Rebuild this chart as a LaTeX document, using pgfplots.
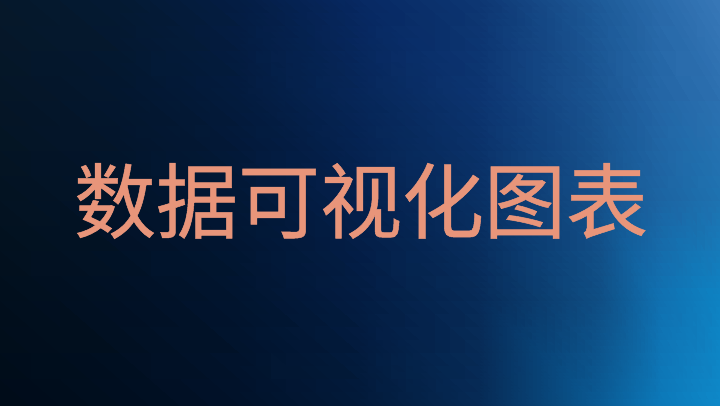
\documentclass[border=0pt]{standalone}
\usepackage{pgfplots}
\pgfplotsset{compat=1.18}
\usepackage{fontspec}
\newfontfamily\cjk[FakeBold=0.6]{Noto Sans CJK SC}
\definecolor{titlesalmon}{HTML}{E8957A}

\begin{document}
\begin{tikzpicture}
	\begin{axis}[
		view={0}{90},
		scale only axis,
		width=720bp, height=405bp,
		xmin=0, xmax=720,
		ymin=0, ymax=405,
		hide axis,
	]
	% background: colour sampled on a grid, interpolated
	\addplot3 [surf, shader=interp, mesh/color input=explicit, mesh/cols=8]
	table [meta=c] {
		x y z c
		0   0 0 rgb=0,0.047,0.098
		120 0 0 rgb=0,0.055,0.125
		240 0 0 rgb=0.004,0.071,0.165
		360 0 0 rgb=0.008,0.102,0.227
		480 0 0 rgb=0.024,0.165,0.333
		600 0 0 rgb=0.039,0.353,0.58
		660 0 0 rgb=0.047,0.471,0.722
		720 0 0 rgb=0.055,0.533,0.784

		0   105 0 rgb=0.004,0.059,0.114
		120 105 0 rgb=0.004,0.067,0.145
		240 105 0 rgb=0.004,0.082,0.188
		360 105 0 rgb=0.012,0.11,0.259
		480 105 0 rgb=0.027,0.169,0.345
		600 105 0 rgb=0.059,0.306,0.518
		660 105 0 rgb=0.063,0.439,0.69
		720 105 0 rgb=0.055,0.51,0.761

		0   205 0 rgb=0.012,0.075,0.133
		120 205 0 rgb=0.008,0.078,0.165
		240 205 0 rgb=0.008,0.094,0.212
		360 205 0 rgb=0.016,0.125,0.298
		480 205 0 rgb=0.035,0.188,0.392
		600 205 0 rgb=0.082,0.314,0.541
		660 205 0 rgb=0.11,0.392,0.635
		720 205 0 rgb=0.118,0.447,0.69

		0   305 0 rgb=0.02,0.086,0.153
		120 305 0 rgb=0.012,0.09,0.184
		240 305 0 rgb=0.012,0.106,0.243
		360 305 0 rgb=0.024,0.149,0.345
		480 305 0 rgb=0.047,0.204,0.439
		600 305 0 rgb=0.102,0.333,0.573
		660 305 0 rgb=0.141,0.4,0.651
		720 305 0 rgb=0.173,0.439,0.69

		0   405 0 rgb=0.024,0.098,0.169
		120 405 0 rgb=0.016,0.102,0.2
		240 405 0 rgb=0.016,0.114,0.267
		360 405 0 rgb=0.027,0.157,0.384
		480 405 0 rgb=0.051,0.212,0.447
		600 405 0 rgb=0.114,0.353,0.596
		660 405 0 rgb=0.165,0.416,0.667
		720 405 0 rgb=0.22,0.471,0.722
	};
	\end{axis}
	\node [anchor=base, inner sep=0pt, text=titlesalmon,
		font=\cjk\fontsize{82bp}{90bp}\selectfont]
		at ([shift={(361bp,173bp)}]current axis.south west) {数据可视化图表};
	\pgfresetboundingbox
	\useasboundingbox (current axis.south west) rectangle (current axis.north east);
\end{tikzpicture}
\end{document}
